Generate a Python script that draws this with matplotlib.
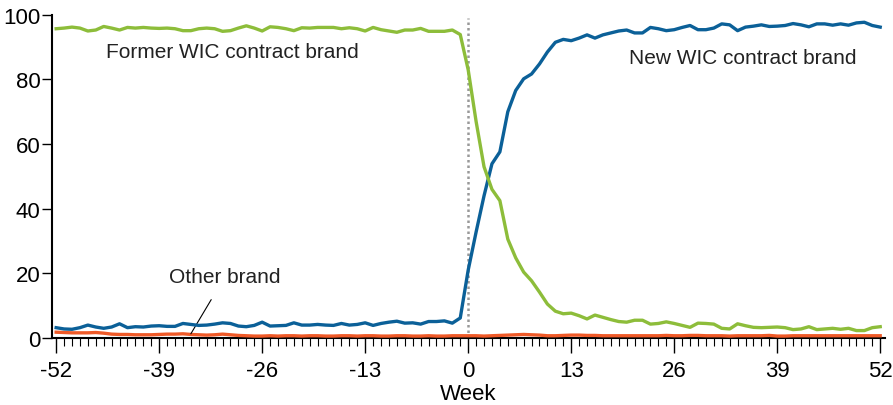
import matplotlib.pyplot as plt
import numpy as np

plt.rcParams['font.family'] = ['Liberation Sans', 'DejaVu Sans']
plt.rcParams['axes.unicode_minus'] = False

weeks = np.arange(-52, 53)

# share of purchases (%), weeks -52 .. 52
former_brand = [95.7, 95.9, 96.2, 95.9, 95.0, 95.3, 96.4, 95.9, 95.3, 96.1,
                95.9, 96.1, 95.9, 95.8, 95.9, 95.7, 95.1, 95.1, 95.7, 95.9,
                95.7, 94.9, 95.1, 95.9, 96.6, 95.9, 95.0, 96.3, 96.1, 95.7,
                95.1, 96.0, 95.9, 96.1, 96.1, 96.1, 95.7, 96.0, 95.7, 95.0,
                96.1, 95.4, 95.0, 94.6, 95.3, 95.3, 95.8, 94.9, 94.9, 94.9,
                95.3, 93.9,
                83.0,
                67.0, 53.0, 46.0, 42.5, 30.6, 24.8, 20.4, 17.7, 14.2, 10.5,
                8.3, 7.5, 7.7, 6.9, 5.9, 7.1, 6.4, 5.7, 5.1, 4.9,
                5.5, 5.5, 4.3, 4.5, 5.0, 4.5, 3.9, 3.3, 4.6, 4.5,
                4.3, 3.0, 2.8, 4.4, 3.8, 3.3, 3.2, 3.3, 3.4, 3.2,
                2.6, 2.8, 3.5, 2.6, 2.8, 3.0, 2.7, 3.0, 2.3, 2.3,
                3.2, 3.5]

new_brand = [3.2, 2.8, 2.7, 3.2, 4.0, 3.4, 3.0, 3.4, 4.4, 3.2,
             3.5, 3.4, 3.7, 3.8, 3.6, 3.6, 4.5, 4.2, 3.9, 4.0,
             4.3, 4.7, 4.5, 3.7, 3.5, 3.9, 4.9, 3.7, 3.8, 3.9,
             4.7, 4.0, 4.0, 4.2, 4.0, 3.9, 4.5, 4.0, 4.2, 4.7,
             3.9, 4.5, 4.9, 5.2, 4.6, 4.7, 4.3, 5.1, 5.1, 5.3,
             4.6, 6.2,
             21.0,
             32.8, 44.0, 53.9, 57.6, 70.0, 76.6, 80.2, 81.7, 84.8, 88.5,
             91.5, 92.4, 92.0, 92.8, 93.8, 92.8, 93.8, 94.4, 95.0, 95.3,
             94.4, 94.4, 96.1, 95.7, 95.1, 95.4, 96.1, 96.7, 95.4, 95.4,
             95.9, 97.2, 96.9, 95.1, 96.2, 96.5, 96.9, 96.4, 96.5, 96.7,
             97.3, 96.9, 96.3, 97.2, 97.2, 96.8, 97.2, 96.8, 97.5, 97.7,
             96.7, 96.2]

other_brand = [1.8, 1.7, 1.6, 1.6, 1.6, 1.7, 1.5, 1.2, 1.1, 1.1,
               1.0, 1.0, 1.0, 1.1, 1.2, 1.2, 1.3, 1.1, 1.0, 0.9,
               1.0, 1.2, 1.0, 0.8, 0.7, 0.6, 0.6, 0.7, 0.6, 0.7,
               0.7, 0.6, 0.7, 0.7, 0.6, 0.6, 0.7, 0.7, 0.6, 0.7,
               0.7, 0.6, 0.6, 0.7, 0.7, 0.6, 0.6, 0.7, 0.6, 0.6,
               0.7, 0.7,
               0.7,
               0.7, 0.6, 0.7, 0.8, 0.9, 1.0, 1.1, 1.0, 0.9, 0.7,
               0.7, 0.8, 0.9, 0.9, 0.8, 0.8, 0.7, 0.7, 0.7, 0.7,
               0.7, 0.7, 0.7, 0.7, 0.8, 0.7, 0.7, 0.8, 0.8, 0.7,
               0.7, 0.7, 0.6, 0.7, 0.7, 0.7, 0.7, 0.8, 0.6, 0.6,
               0.7, 0.7, 0.7, 0.7, 0.7, 0.7, 0.7, 0.7, 0.7, 0.7,
               0.7, 0.7]

green = '#8dbd3a'
blue = '#0b6098'
orange = '#ef5a28'

fig = plt.figure(figsize=(8.93, 4.06), dpi=100)
ax = fig.add_axes([0.058, 0.165, 0.933, 0.796])

ax.axvline(0, ymin=0, ymax=0.99, color='#999999', lw=1.8, ls=(0, (1, 1.2)), zorder=1)
ax.plot(weeks, other_brand, color=orange, lw=2.4, zorder=3)
ax.plot(weeks, new_brand, color=blue, lw=2.4, zorder=4)
ax.plot(weeks, former_brand, color=green, lw=2.4, zorder=5)

ax.text(-29.8, 88.7, 'Former WIC contract brand', fontsize=15, ha='center', va='center', color='#222222')
ax.text(34.7, 86.7, 'New WIC contract brand', fontsize=15, ha='center', va='center', color='#222222')
ax.annotate('Other brand', xy=(-35, 1.3), xytext=(-30.7, 19),
            fontsize=15, ha='center', va='center', color='#222222',
            arrowprops=dict(arrowstyle='-', color='black', lw=0.8, shrinkA=9, shrinkB=0))

ax.set_xlim(-52.55, 52.6)
ax.set_ylim(0, 100)
ax.set_xticks(np.arange(-52, 53, 13))
ax.set_xticks(weeks, minor=True)
ax.set_yticks(np.arange(0, 101, 20))
ax.tick_params(axis='x', which='major', length=11, width=1, direction='out', labelsize=16, pad=5)
ax.tick_params(axis='x', which='minor', length=6, width=0.8, direction='out')
ax.tick_params(axis='y', which='major', length=7, width=1, direction='out', labelsize=16, pad=1)
ax.set_xlabel('Week', fontsize=16, labelpad=1)

for s in ['top', 'right']:
    ax.spines[s].set_visible(False)
ax.spines['left'].set_linewidth(1.5)
ax.spines['bottom'].set_linewidth(1.5)

fig.savefig('out.png', dpi=100)
